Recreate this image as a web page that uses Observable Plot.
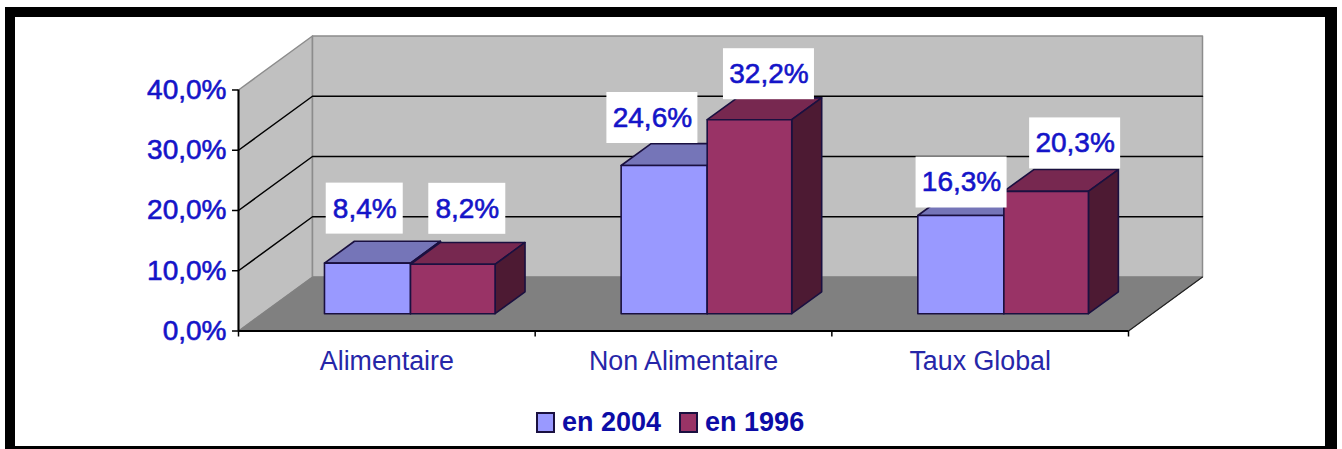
<!DOCTYPE html>
<html>
<head>
<meta charset="utf-8">
<script src="https://cdn.jsdelivr.net/npm/d3@7"></script>
<script src="https://cdn.jsdelivr.net/npm/@observablehq/plot@0.6"></script>
<style>
html,body{margin:0;padding:0;background:#fff;width:1342px;height:449px;overflow:hidden}
#page{position:relative;width:1342px;height:449px;overflow:hidden;font-family:"Liberation Sans",Arial,sans-serif}
#frame{position:absolute;left:5px;top:7px;width:1310px;height:429px;border:solid #000;border-width:10px 12px 10px 10px;background:#fff}
#chart{position:absolute;left:0;top:0}
#legend{position:absolute;left:536px;top:406px;height:32px;display:flex;align-items:center;font-weight:bold;font-size:27px;color:#0c0ca6}
#legend .sw{display:inline-block;width:15px;height:17px;border:2px solid #1a1040;margin-right:7px}
#legend .it{display:flex;align-items:center;margin-right:18px}
</style>
</head>
<body>
<div id="page"><div id="frame"></div><div id="chart"></div><div id="legend"></div></div>
<script>
const categories = ["Alimentaire", "Non Alimentaire", "Taux Global"];
const seriesNames = ["en 2004", "en 1996"];
const values2004 = [8.4, 24.6, 16.3];
const values1996 = [8.2, 32.2, 20.3];
const yTicks = [0, 10, 20, 30, 40];

// style and 3D projection settings (not data)
const DEPTH_X = 0.2494, DEPTH_Y = 8.96, BAR_W = 0.285, D0 = 0.32, D1 = 0.725;
const faceColors = {
  "en 2004": {front: "#9999ff", top: "#7575b8", side: "#4d4d80"},
  "en 1996": {front: "#993366", top: "#772850", side: "#4d1a33"}
};
const TEXT_BLUE = "#1414c8";
// manual placement of each value label relative to its bar (pixels)
const labelNudge = {
  "en 2004": [[-3.5, -54.5], [-12.5, -47.5], [0, -33]],
  "en 1996": [[14.5, -55.5], [19.5, -45.5], [29, -48]]
};
const pct = v => v.toFixed(1).replace(".", ",") + "%";
const P = (c, v, d) => ({x: c + d * DEPTH_X, y: v + d * DEPTH_Y});

let pid = 0;
const poly = (pts, fill) => { const id = pid++; return pts.map(p => ({...p, id, fill})); };

// walls
const TOP = yTicks[yTicks.length - 1], N = categories.length;
const walls = [
  ...poly([P(0, 0, 0), P(0, TOP, 0), P(0, TOP, 1), P(0, 0, 1)], "#c0c0c0"),
  ...poly([P(0, 0, 1), P(0, TOP, 1), P(N, TOP, 1), P(N, 0, 1)], "#c0c0c0")
];
const floor = poly([P(0, 0, 0), P(0, 0, 1), P(N, 0, 1), P(N, 0, 0)], "#808080");

const grid = yTicks.slice(1, -1).flatMap(v =>
  [P(0, v, 0), P(0, v, 1), P(N, v, 1)].map(p => ({...p, v})));

const series = [
  {name: seriesNames[0], values: values2004, off: -BAR_W, w: BAR_W + 0.005},
  {name: seriesNames[1], values: values1996, off: 0, w: BAR_W}
];
function barFaces(s) {
  const col = faceColors[s.name];
  return s.values.flatMap((v, i) => {
    const b = i + 0.5 + s.off + BAR_W, a = b - s.w;
    return [
      ...poly([P(a, v, D0), P(a, v, D1), P(b, v, D1), P(b, v, D0)], col.top),
      ...poly([P(b, 0, D0), P(b, 0, D1), P(b, v, D1), P(b, v, D0)], col.side),
      ...poly([P(a, 0, D0), P(a, v, D0), P(b, v, D0), P(b, 0, D0)], col.front)
    ];
  });
}
const bars = series.flatMap(barFaces);

const polygonMark = (data, extra) => Plot.line(data, {
  x: "x", y: "y", z: "id", fill: "fill", curve: "linear-closed", ...extra
});

const labelMarks = series.flatMap(s => s.values.flatMap((v, i) => {
  const p = P(i + 0.5 + s.off + BAR_W / 2, v, D0);
  const [dx, dy] = labelNudge[s.name][i];
  const half = pct(v).length > 4 ? 45.5 : 38.5;
  const d = [{...p, t: pct(v)}];
  return [
    Plot.rect(d, {x1: "x", x2: "x", y1: "y", y2: "y", dx, dy, fill: "#fff",
      insetLeft: -half, insetRight: -half, insetTop: -25.5, insetBottom: -25.5}),
    Plot.text(d, {x: "x", y: "y", text: "t", dx, dy, fill: TEXT_BLUE, stroke: TEXT_BLUE, strokeWidth: 0.6,
      fontSize: 28})
  ];
}));

const plot = Plot.plot({
  width: 1342, height: 400,
  marginLeft: 238, marginRight: 140, marginTop: 35.5, marginBottom: 69.5,
  style: {fontFamily: "'Liberation Sans', Arial, sans-serif", background: "transparent", overflow: "visible"},
  x: {type: "linear", domain: [0, N + DEPTH_X], axis: null},
  y: {type: "linear", domain: [0, TOP + DEPTH_Y], axis: null},
  marks: [
    polygonMark(walls, {stroke: "#8c8c8c", strokeWidth: 1.5}),
    polygonMark(floor, {stroke: "#808080", strokeWidth: 1}),
    Plot.line(grid, {x: "x", y: "y", z: "v", stroke: "#000", strokeWidth: 1.5}),
    Plot.line([P(N, 0, 0), P(N, 0, 1)], {x: "x", y: "y", stroke: "#222", strokeWidth: 1.2}),
    polygonMark(bars, {stroke: "#1a1040", strokeWidth: 1.6}),
    ...labelMarks,
    Plot.ruleX([0], {y1: 0, y2: TOP, stroke: "#000", strokeWidth: 2}),
    Plot.ruleY([0], {x1: 0, x2: N, stroke: "#000", strokeWidth: 2}),
    Plot.axisY({anchor: "left", ticks: yTicks, tickSize: 6, tickFormat: () => "",
      stroke: "#000", strokeWidth: 1.5, label: null}),
    Plot.text(yTicks, {x: 0, y: d => d, text: pct, textAnchor: "end", dx: -12, fontSize: 28,
      fill: TEXT_BLUE, stroke: TEXT_BLUE, strokeWidth: 0.6}),
    Plot.axisX({anchor: "bottom", ticks: d3.range(N + 1), tickSize: 6, tickFormat: () => "",
      stroke: "#000", strokeWidth: 1.5, label: null}),
    Plot.axisX({anchor: "bottom", ticks: categories.map((_, i) => i + 0.5), tickSize: 0, tickPadding: 20,
      tickFormat: v => categories[v - 0.5], fontSize: 26.8, fill: "#2626a8", label: null})
  ]
});
document.getElementById("chart").appendChild(plot);

const legend = document.getElementById("legend");
seriesNames.forEach(n => {
  const it = document.createElement("span"); it.className = "it";
  const sw = document.createElement("span"); sw.className = "sw";
  sw.style.background = faceColors[n].front;
  it.appendChild(sw);
  it.appendChild(document.createTextNode(n));
  legend.appendChild(it);
});
</script>
</body>
</html>
